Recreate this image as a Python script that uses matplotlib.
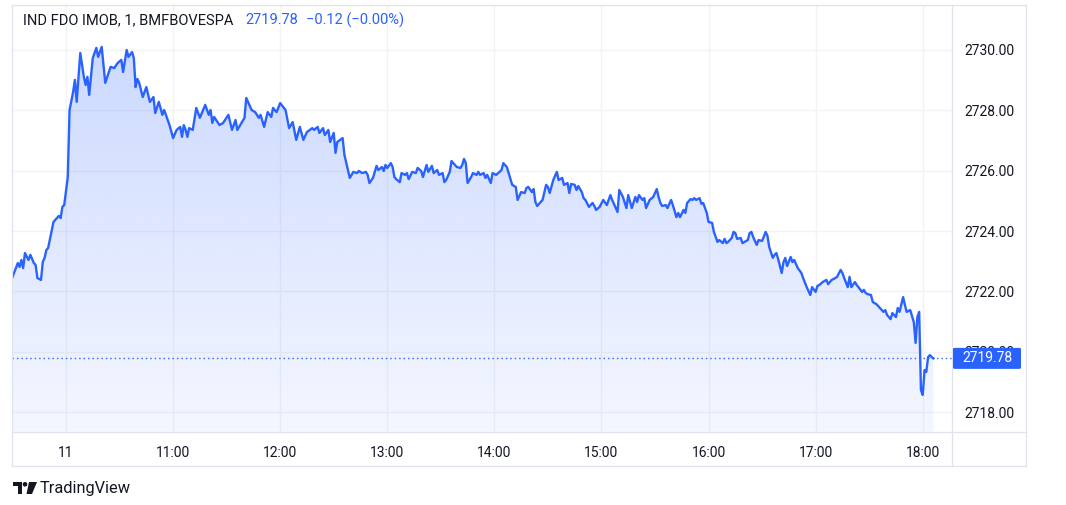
import matplotlib
matplotlib.use("Agg")
import matplotlib.pyplot as plt
import numpy as np
from matplotlib.patches import FancyBboxPatch, Polygon, Rectangle, Ellipse
from matplotlib.lines import Line2D

plt.rcParams['font.family'] = ['Roboto', 'DejaVu Sans']

# ---------------- data (minutes relative to 10:00, 1-minute bars) ----------------
minutes = [
    -30, -27, -26, -25, -24, -23, -21, -20, -18, -17, -16, -14, -13, -12, -11, -10,
    -7, -6, -4, -3, -2, -1, 1, 2, 4, 5, 6, 8, 10, 11, 12, 13, 15, 17, 18, 20, 22, 25,
    27, 29, 31, 32, 34, 35, 37, 38, 39, 40, 41, 43, 45, 47, 49, 50, 52, 54, 55, 57,
    58, 60, 62, 64, 65, 66, 67, 68, 69, 71, 73, 75, 78, 80, 81, 82, 83, 86, 88, 91,
    93, 95, 96, 100, 101, 104, 106, 108, 109, 111, 113, 115, 116, 118, 120, 123, 125,
    127, 129, 131, 133, 135, 138, 139, 141, 142, 144, 145, 147, 148, 150, 151, 152,
    155, 156, 159, 161, 163, 164, 166, 168, 169, 170, 172, 174, 175, 177, 178, 179,
    180, 182, 183, 184, 185, 187, 188, 190, 191, 192, 194, 196, 197, 199, 200, 202,
    203, 205, 206, 208, 209, 211, 212, 213, 215, 216, 217, 219, 221, 222, 223, 224,
    225, 227, 228, 230, 231, 232, 234, 235, 236, 238, 239, 241, 244, 245, 247, 248,
    250, 252, 253, 255, 257, 258, 259, 261, 262, 263, 264, 267, 269, 270, 271, 273,
    275, 276, 278, 279, 281, 282, 283, 285, 286, 287, 289, 290, 291, 293, 295, 296,
    297, 299, 301, 303, 305, 306, 309, 310, 312, 314, 315, 317, 319, 320, 321, 323,
    324, 325, 327, 329, 331, 332, 333, 334, 336, 337, 339, 340, 342, 343, 344, 346,
    347, 348, 350, 351, 352, 353, 355, 356, 357, 359, 360, 362, 363, 365, 366, 368,
    369, 370, 371, 373, 374, 375, 376, 378, 379, 382, 383, 384, 385, 387, 388, 390,
    392, 393, 394, 396, 397, 398, 399, 401, 402, 403, 404, 406, 407, 408, 410, 412,
    413, 415, 417, 418, 420, 421, 422, 424, 426, 427, 429, 431, 432, 434, 435, 436,
    438, 439, 440, 442, 443, 444, 446, 447, 448, 449, 451, 452, 453, 454, 456, 458,
    459, 460, 462, 463, 465, 466, 467, 469, 470, 471, 473, 475, 476, 477, 478, 479,
    480, 481, 482, 483, 484, 485, 486,
]
prices = [
    2722.47, 2722.94, 2722.81, 2723.04, 2722.77, 2723.27, 2723.04, 2723.21, 2722.94,
    2722.87, 2722.44, 2722.38, 2722.97, 2723.11, 2723.37, 2723.44, 2724.30, 2724.37,
    2724.50, 2724.43, 2724.80, 2724.86, 2725.79, 2728.01, 2728.61, 2729.01, 2728.28,
    2729.90, 2729.11, 2728.84, 2729.11, 2728.51, 2729.73, 2730.07, 2729.77, 2730.10,
    2728.91, 2729.44, 2729.40, 2729.57, 2729.67, 2729.27, 2730.00, 2729.77, 2729.93,
    2729.73, 2728.77, 2729.04, 2728.91, 2728.44, 2728.77, 2728.28, 2728.44, 2727.91,
    2728.28, 2727.85, 2728.01, 2727.68, 2727.51, 2727.08, 2727.35, 2727.45, 2727.12,
    2727.51, 2727.35, 2727.12, 2727.41, 2727.35, 2728.08, 2727.75, 2728.18, 2727.85,
    2728.01, 2727.58, 2727.78, 2727.51, 2727.58, 2727.85, 2727.35, 2727.68, 2727.35,
    2727.75, 2728.41, 2728.01, 2727.94, 2727.75, 2727.85, 2727.45, 2727.94, 2727.78,
    2728.08, 2727.94, 2728.24, 2728.01, 2727.41, 2727.61, 2727.02, 2727.45, 2727.02,
    2727.28, 2727.41, 2727.35, 2727.45, 2727.25, 2727.41, 2727.18, 2727.35, 2726.95,
    2727.25, 2726.59, 2726.95, 2727.08, 2726.52, 2725.76, 2725.96, 2725.92, 2725.99,
    2725.92, 2725.96, 2725.86, 2725.59, 2725.76, 2726.16, 2726.02, 2726.12, 2725.99,
    2726.19, 2726.09, 2726.25, 2726.12, 2725.79, 2725.72, 2725.62, 2725.92, 2725.86,
    2725.92, 2725.72, 2725.96, 2725.92, 2726.09, 2725.99, 2725.79, 2726.19, 2725.96,
    2726.16, 2725.92, 2726.02, 2725.86, 2725.92, 2725.62, 2725.69, 2725.96, 2726.32,
    2726.25, 2726.12, 2726.09, 2726.19, 2726.39, 2726.25, 2725.59, 2725.79, 2725.92,
    2725.86, 2725.96, 2725.86, 2725.92, 2725.76, 2725.86, 2725.59, 2725.92, 2725.86,
    2726.02, 2726.25, 2726.12, 2725.92, 2725.53, 2725.46, 2725.03, 2725.29, 2725.26,
    2725.43, 2725.46, 2725.29, 2725.39, 2724.96, 2724.83, 2725.03, 2725.53, 2725.46,
    2725.26, 2725.69, 2725.96, 2725.69, 2725.76, 2725.53, 2725.59, 2725.26, 2725.56,
    2725.53, 2725.36, 2725.49, 2725.29, 2725.09, 2725.03, 2724.80, 2724.93, 2724.83,
    2724.70, 2724.80, 2725.03, 2724.86, 2725.19, 2725.03, 2724.63, 2725.36, 2725.13,
    2724.76, 2725.19, 2724.76, 2725.13, 2724.96, 2725.19, 2725.03, 2725.09, 2724.76,
    2725.03, 2725.13, 2725.39, 2725.13, 2724.93, 2724.83, 2724.86, 2724.76, 2725.03,
    2724.86, 2724.46, 2724.60, 2724.46, 2724.70, 2724.60, 2724.93, 2725.06, 2725.03,
    2725.09, 2725.03, 2725.09, 2724.90, 2724.93, 2724.60, 2724.30, 2724.27, 2723.97,
    2723.64, 2723.70, 2723.60, 2723.74, 2723.60, 2723.64, 2723.77, 2723.97, 2723.93,
    2723.74, 2723.77, 2723.60, 2723.70, 2723.93, 2723.97, 2723.80, 2723.54, 2723.70,
    2723.67, 2723.97, 2723.84, 2723.47, 2723.11, 2723.21, 2723.27, 2723.07, 2722.61,
    2722.97, 2723.11, 2722.84, 2723.14, 2722.97, 2723.04, 2722.77, 2722.61, 2722.44,
    2722.14, 2721.88, 2722.14, 2721.98, 2722.18, 2722.21, 2722.31, 2722.38, 2722.24,
    2722.38, 2722.44, 2722.48, 2722.71, 2722.61, 2722.44, 2722.14, 2722.48, 2722.14,
    2722.31, 2722.21, 2722.14, 2721.98, 2722.05, 2721.95, 2721.91, 2721.88, 2721.65,
    2721.61, 2721.58, 2721.45, 2721.32, 2721.38, 2721.22, 2721.08, 2721.28, 2721.15,
    2721.45, 2721.32, 2721.81, 2721.55, 2721.32, 2721.38, 2720.98, 2720.29, 2721.15,
    2721.32, 2718.73, 2718.57, 2719.39, 2719.33, 2719.82, 2719.89, 2719.82, 2719.78,
]

tick_minutes = [0, 60, 120, 180, 240, 300, 360, 420, 480]
tick_labels = ["11", "11:00", "12:00", "13:00", "14:00", "15:00", "16:00", "17:00", "18:00"]
price_ticks = [2718, 2720, 2722, 2724, 2726, 2728, 2730]

symbol = "IND FDO IMOB, 1, BMFBOVESPA"
last_price = 2719.78
last_label = "2719.78"
change_label = "\u22120.12 (\u22120.00%)"
brand = "TradingView"

BLUE = "#2962ff"
TEXT = "#131722"
GRID = "#f2f3f6"
BORDER = "#e0e3eb"

# ---------------- figure ----------------
W, H = 1066, 505
fig = plt.figure(figsize=(W / 100, H / 100), dpi=100)
fig.patch.set_facecolor("white")


def fx(px):
    return px / W


def fy(py):
    return 1 - py / H


ax = fig.add_axes([fx(12), fy(432), fx(952) - fx(12), fy(5) - fy(432)])
xmin, xmax = -30.25, 496.4
ymin, ymax = 2717.34, 2731.49
ax.set_xlim(xmin, xmax)
ax.set_ylim(ymin, ymax)
ax.set_facecolor("white")

# gradient area fill
img = np.zeros((256, 1, 4))
img[..., 0] = 41 / 255
img[..., 1] = 98 / 255
img[..., 2] = 1.0
img[..., 3] = np.linspace(0.05, 0.26, 256)[:, None]
im = ax.imshow(img, extent=[xmin, xmax, ymin, ymax], origin="lower",
               aspect="auto", zorder=1, interpolation="bilinear")
verts = [(minutes[0], ymin)] + list(zip(minutes, prices)) + [(minutes[-1], ymin)]
clip = Polygon(verts, closed=True, facecolor="none", edgecolor="none")
ax.add_patch(clip)
im.set_clip_path(clip)

ax.plot(minutes, prices, color=BLUE, lw=1.7, solid_joinstyle="round", zorder=3)
ax.axhline(last_price, color=BLUE, lw=1.0, linestyle=(0, (1, 2.2)), zorder=2)

# grid & ticks
ax.set_xticks(tick_minutes)
ax.set_xticklabels(tick_labels)
ax.set_yticks(price_ticks)
ax.set_yticklabels([f"{p:.2f}" for p in price_ticks])
ax.yaxis.tick_right()
ax.grid(True, color=GRID, lw=1.0, zorder=0)
ax.set_axisbelow(True)
ax.tick_params(axis="both", length=0, labelsize=10, labelcolor=TEXT)
ax.tick_params(axis="y", pad=9)
ax.tick_params(axis="x", pad=10)
for lbl in ax.get_yticklabels():
    lbl.set_horizontalalignment("left")
for s in ax.spines.values():
    s.set_visible(False)

# frame lines
lw_frame = 0.9
for (x0, y0, x1, y1) in [(12, 5, 1026, 5), (12, 466, 1026, 466), (12, 5, 12, 466),
                         (1026, 5, 1026, 466), (12, 432, 1026, 432), (952, 5, 952, 466)]:
    fig.add_artist(Line2D([fx(x0), fx(x1)], [fy(y0), fy(y1)], color=BORDER, lw=lw_frame))

# last price label on the price scale (covers the 2720.00 tick label as in the original)
fig.canvas.draw()
y_disp = ax.transData.transform((0, last_price))[1]
yb = y_disp / H
bh = 21 / H
box = FancyBboxPatch((fx(953), yb - bh / 2), fx(1021) - fx(953), bh,
                     boxstyle="round,pad=0,rounding_size=0.002",
                     transform=fig.transFigure, facecolor=BLUE, edgecolor="none", zorder=10)
fig.add_artist(box)
fig.text(fx(987), yb, last_label, color="white", fontsize=10, ha="center", va="center", zorder=11)

# header legend
fig.text(fx(23), fy(20), symbol, color=TEXT, fontsize=10.5, ha="left", va="center")
fig.text(fx(245), fy(20), last_label, color=BLUE, fontsize=10.5, ha="left", va="center")
fig.text(fx(306), fy(20), change_label, color=BLUE, fontsize=10.5, ha="left", va="center")

# TradingView logo
logo = [
    Rectangle((fx(13), fy(486)), fx(22) - fx(13), fy(482) - fy(486)),
    Rectangle((fx(17.5), fy(494)), fx(22) - fx(17.5), fy(482) - fy(494)),
    Polygon([(fx(29), fy(482)), (fx(37), fy(482)), (fx(32), fy(494)), (fx(26.5), fy(494))]),
]
for p in logo:
    p.set_transform(fig.transFigure)
    p.set_facecolor(TEXT)
    p.set_edgecolor("none")
    fig.add_artist(p)
dot = Ellipse((fx(25), fy(484.3)), fx(4.6), 4.6 / H, transform=fig.transFigure,
              facecolor=TEXT, edgecolor="none")
fig.add_artist(dot)
fig.text(fx(40), fy(489), brand, color=TEXT, fontsize=11.8, ha="left", va="center")

fig.savefig("out.png", dpi=100, facecolor="white")
